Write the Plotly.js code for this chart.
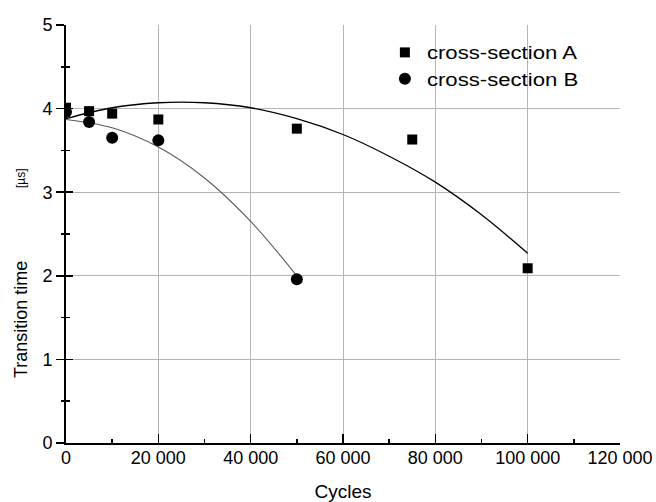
<!DOCTYPE html>
<html>
<head>
<meta charset="utf-8">
<script src="https://cdn.plot.ly/plotly-3.0.1.min.js"></script>
<style>html,body{margin:0;padding:0;background:#fff;}#chart{width:656px;height:502px;}</style>
</head>
<body>
<div id="chart"></div>
<script>
// Measured data
const cyclesA = [0, 5000, 10000, 20000, 50000, 75000, 100000];
const timeA   = [4.01, 3.97, 3.94, 3.87, 3.76, 3.63, 2.09];
const cyclesB = [0, 5000, 10000, 20000, 50000];
const timeB   = [3.96, 3.84, 3.65, 3.62, 1.96];
// Fit curves
const fitCyclesA = [0, 10000, 20000, 30000, 40000, 50000, 60000, 70000, 80000, 90000, 100000];
const fitTimeA   = [3.88, 4.01, 4.07, 4.07, 4.01, 3.88, 3.69, 3.43, 3.12, 2.73, 2.27];
const fitCyclesB = [0, 10000, 20000, 30000, 40000, 50000];
const fitTimeB   = [3.87, 3.77, 3.54, 3.17, 2.65, 2.00];
const xTicks = [0, 20000, 40000, 60000, 80000, 100000, 120000];
const xGrid  = [20000, 40000, 60000, 80000, 100000];
const yTicks = [0, 1, 2, 3, 4, 5];
const yGrid  = [1, 2, 3, 4];
const seriesNames = ['cross-section A', 'cross-section B'];

const FONT = 'Liberation Sans, Arial, sans-serif';

const traces = [
  {x: fitCyclesA, y: fitTimeA, mode: 'lines', line: {color: '#000', width: 1.3, shape: 'spline', smoothing: 1}, showlegend: false, hoverinfo: 'skip'},
  {x: fitCyclesB, y: fitTimeB, mode: 'lines', line: {color: '#5a5a5a', width: 1.1, shape: 'spline', smoothing: 1}, showlegend: false, hoverinfo: 'skip'},
  {x: cyclesA, y: timeA, mode: 'markers', name: seriesNames[0], marker: {symbol: 'square', size: 10, color: '#000'}},
  {x: cyclesB, y: timeB, mode: 'markers', name: seriesNames[1], marker: {symbol: 'circle', size: 12, color: '#000'}},
  // helper traces so that overlay axes are drawn
  {x: [], y: [], xaxis: 'x2', yaxis: 'y', showlegend: false},
  {x: [], y: [], xaxis: 'x', yaxis: 'y2', showlegend: false},
  {x: [], y: [], xaxis: 'x', yaxis: 'y3', showlegend: false}
];

const layout = {
  width: 656, height: 502,
  margin: {l: 66, r: 36, t: 25, b: 59},
  paper_bgcolor: '#fff', plot_bgcolor: 'rgba(0,0,0,0)',
  separators: '. ',
  font: {family: FONT, size: 18, color: '#000'},
  showlegend: true,
  legend: {x: 0.572, y: 0.978, xanchor: 'left', yanchor: 'top', bgcolor: 'rgba(0,0,0,0)',
           itemwidth: 34, font: {family: FONT, size: 18, color: '#000'}, tracegroupgap: 0},
  xaxis: {
    range: [0, 120000], tickvals: xTicks, tickformat: ',d',
    ticks: 'inside', ticklen: 9, tickwidth: 1.5, tickcolor: '#000',
    minor: {dtick: 10000, ticks: 'inside', ticklen: 4, tickwidth: 1.5, tickcolor: '#000', showgrid: false},
    showgrid: false, zeroline: false, showline: true, linewidth: 2, linecolor: '#000',
    tickfont: {family: FONT, size: 18, color: '#000'},
    ticklabelstandoff: -3,
    title: {text: 'Cycles', font: {family: FONT, size: 19, color: '#000'}, standoff: 20},
    automargin: false
  },
  xaxis2: {
    overlaying: 'x', anchor: 'y', range: [0, 120000], tickvals: xGrid,
    showgrid: true, gridcolor: '#b4b4b4', gridwidth: 1, showticklabels: false, ticks: '',
    zeroline: false, showline: false
  },
  yaxis: {
    range: [0, 5], tickvals: yTicks,
    ticks: 'outside', ticklen: 8, tickwidth: 1.5, tickcolor: '#000',
    minor: {dtick: 0.5, ticks: 'outside', ticklen: 3, tickwidth: 1.5, tickcolor: '#000', showgrid: false},
    showgrid: false, zeroline: false, showline: true, linewidth: 2, linecolor: '#000',
    tickfont: {family: FONT, size: 18, color: '#000'},
    automargin: false
  },
  yaxis2: {
    overlaying: 'y', anchor: 'x', range: [0, 5], tickvals: yTicks,
    ticks: 'inside', ticklen: 7, tickwidth: 1.5, tickcolor: '#000',
    minor: {dtick: 0.5, ticks: 'inside', ticklen: 4, tickwidth: 1.5, tickcolor: '#000', showgrid: false},
    showticklabels: false, showgrid: false, zeroline: false, showline: false
  },
  yaxis3: {
    overlaying: 'y', anchor: 'x', range: [0, 5], tickvals: yGrid,
    showgrid: true, gridcolor: '#b4b4b4', gridwidth: 1, showticklabels: false, ticks: '',
    zeroline: false, showline: false
  },
  annotations: [
    {text: 'Transition time', xref: 'paper', yref: 'paper', x: -0.0812, y: 0.294, textangle: -90,
     showarrow: false, xanchor: 'center', yanchor: 'middle', font: {family: FONT, size: 18, color: '#000'}},
    {text: '[µs]', xref: 'paper', yref: 'paper', x: -0.0812, y: 0.634, textangle: -90,
     showarrow: false, xanchor: 'center', yanchor: 'middle', font: {family: FONT, size: 12, color: '#000'}}
  ]
};

Plotly.newPlot('chart', traces, layout, {displayModeBar: false, staticPlot: true}).then(function (gd) {
  // the reference legend lettering is drawn wider than its height; stretch it the same way
  gd.querySelectorAll('.legend [clip-path]').forEach(function (el) { el.removeAttribute('clip-path'); });
  gd.querySelectorAll('.legend text.legendtext').forEach(function (t) {
    const w = t.getComputedTextLength();
    t.setAttribute('textLength', (w * 1.23).toFixed(1));
    t.setAttribute('lengthAdjust', 'spacingAndGlyphs');
  });
});
</script>
</body>
</html>
